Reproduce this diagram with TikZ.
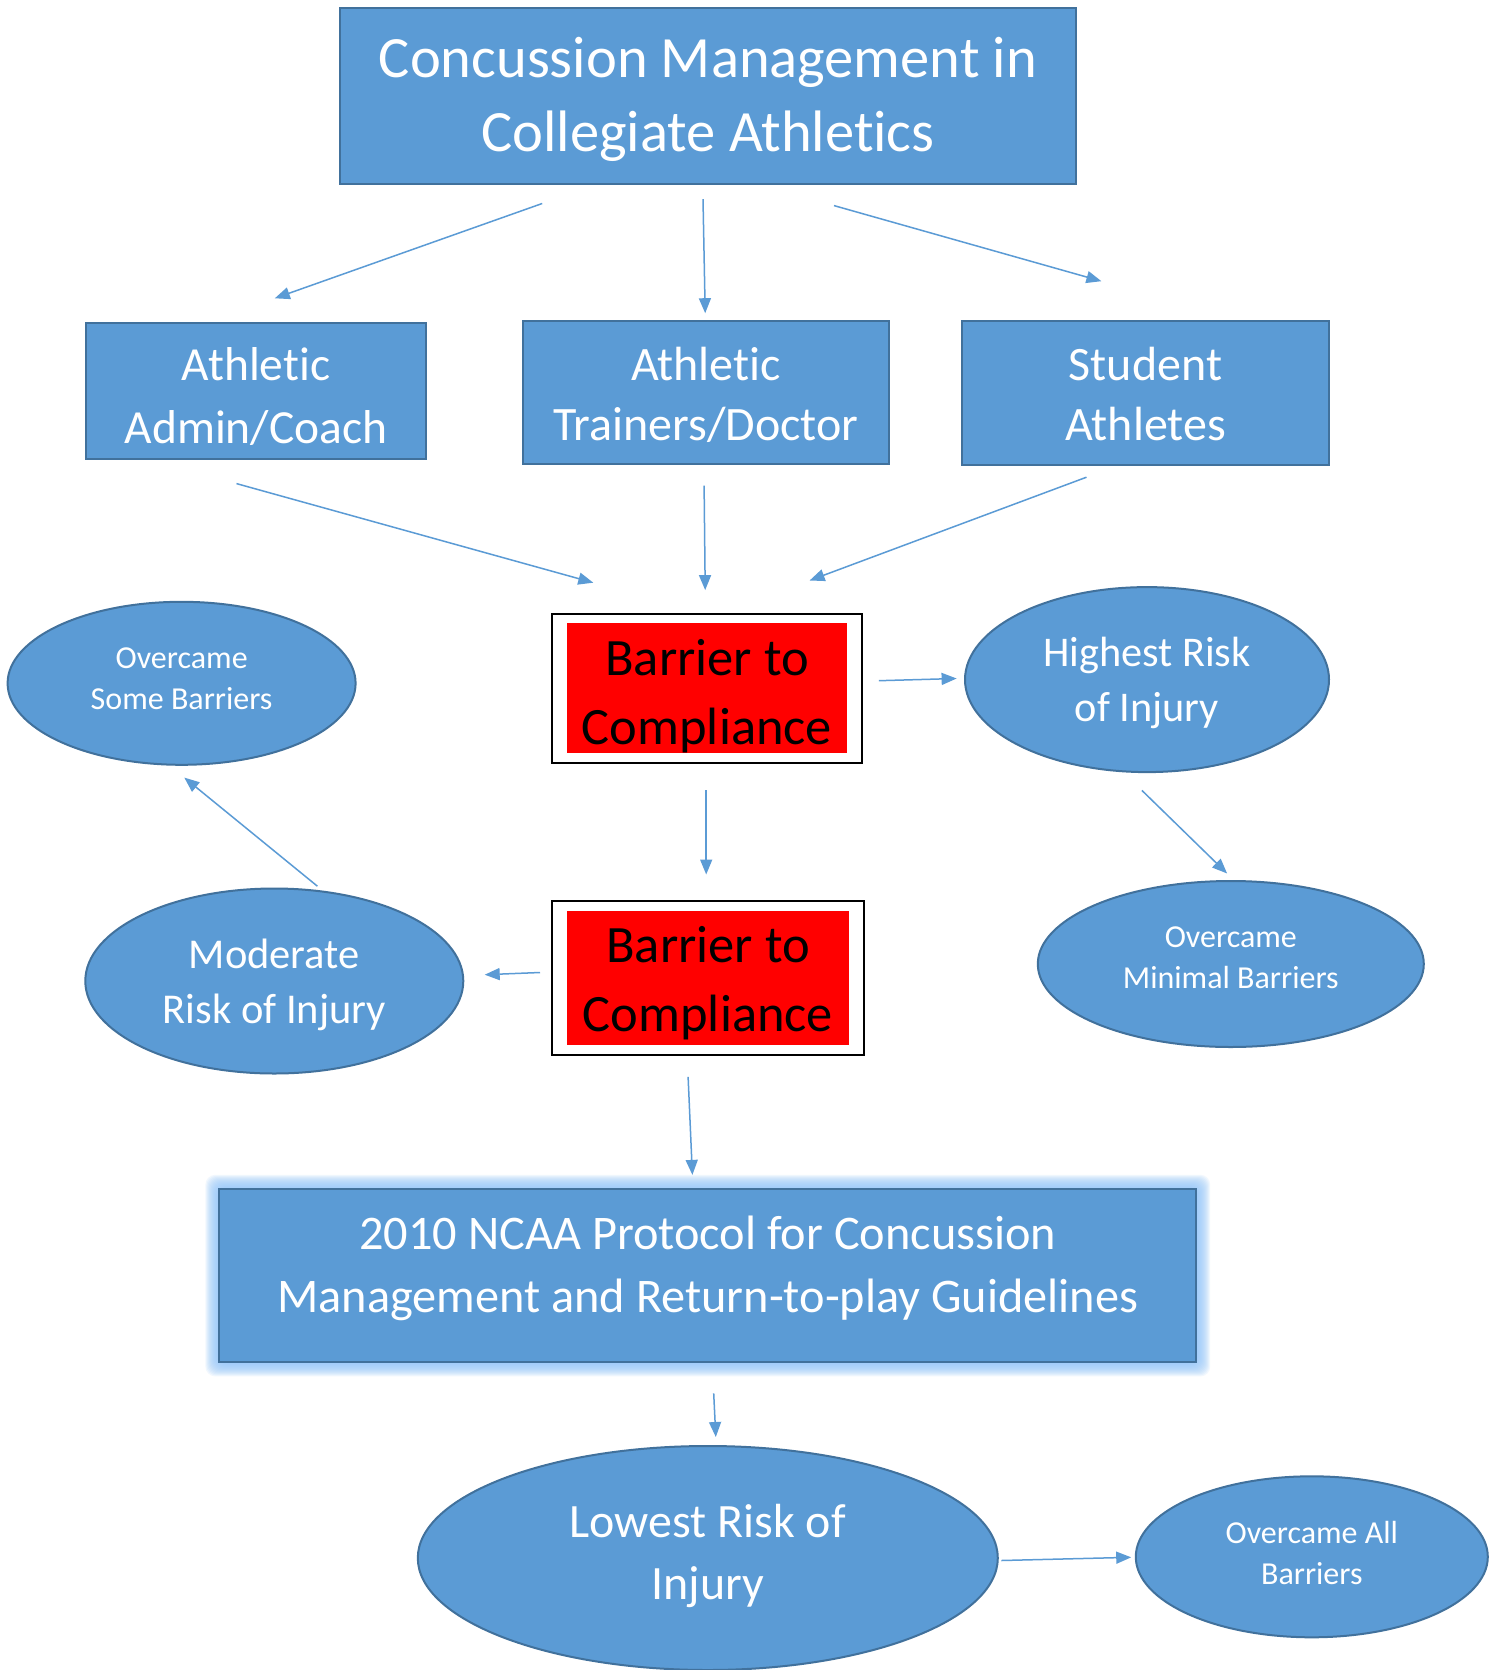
\documentclass[tikz,border=0pt]{standalone}
\usepackage{fontspec}
\setmainfont{Carlito}[Ligatures=NoCommon]
\usetikzlibrary{shapes.geometric,arrows.meta}
\definecolor{blu}{HTML}{5B9BD5}
\definecolor{bordc}{HTML}{41719C}
\definecolor{arrc}{HTML}{5B9BD5}
\definecolor{glowc}{RGB}{150,200,250}
\tikzset{
  box/.style={draw=bordc, fill=blu, line width=2pt, inner sep=0pt},
  ell/.style={ellipse, draw=bordc, fill=blu, line width=2pt, inner sep=0pt},
  frame/.style={draw=black, fill=white, line width=1.5pt, inner sep=0pt},
  redbox/.style={fill=red, inner sep=0pt},
  wtxt/.style={text=white, inner sep=0pt, align=center},
  btxt/.style={text=black, inner sep=0pt, align=center},
  arr/.style={draw=arrc, line width=1.5pt, -{Triangle[length=15pt,width=12pt]}},
}
\newcommand{\fs}[2]{\fontsize{#1}{#2}\selectfont}
\begin{document}
\begin{tikzpicture}[x=1pt,y=-1pt]
\useasboundingbox (0,0) rectangle (1502,1670);
\fill[white] (0,0) rectangle (1502,1670);

% top box
\node[box, minimum width=736pt, minimum height=175pt] (title) at (708,96) {};
\node[wtxt, font=\fs{58.5}{74}, yshift=-3.7pt] (titleT) at (title) {Concussion Management in\\Collegiate Athletics};

% second row
\node[box, minimum width=340pt, minimum height=136pt] (admin) at (256,391) {};
\node[wtxt, font=\fs{47.5}{63}, yshift=-5.3pt] (adminT) at (admin) {Athletic\\Admin/Coach};
\node[box, minimum width=366pt, minimum height=143pt] (trainer) at (706,392.5) {};
\node[wtxt, font=\fs{48}{60}, yshift=-2pt] (trainerT) at (trainer) {Athletic\\Trainers/Doctor};
\node[box, minimum width=367pt, minimum height=144pt] (student) at (1145.5,393) {};
\node[wtxt, font=\fs{48}{60}, yshift=-1pt] (studentT) at (student) {Student\\Athletes};

% barrier 1
\node[frame, minimum width=310pt, minimum height=149pt] (b1frame) at (707,688.5) {};
\node[redbox, minimum width=280pt, minimum height=130pt] (b1) at (707,688) {};
\node[btxt, font=\fs{52.5}{69}, yshift=-8.5pt] (b1T) at (b1) {Barrier to\\Compliance};

% barrier 2
\node[frame, minimum width=312pt, minimum height=154pt] (b2frame) at (708,978) {};
\node[redbox, minimum width=282pt, minimum height=134pt] (b2) at (708,978) {};
\node[btxt, font=\fs{52.5}{69}, yshift=-5.3pt] (b2T) at (b2) {Barrier to\\Compliance};

% ellipses
\node[ell, minimum width=348pt, minimum height=163pt] (some) at (181.6,683.3) {};
\node[wtxt, font=\fs{32}{41}, yshift=4.8pt] (someT) at (some) {Overcame\\Some Barriers};
\node[ell, minimum width=364pt, minimum height=185pt] (high) at (1147,679.6) {};
\node[wtxt, font=\fs{42.3}{55}, yshift=-3.2pt] (highT) at (high) {Highest Risk\\of Injury};
\node[ell, minimum width=378pt, minimum height=185pt] (moder) at (274.3,981) {};
\node[wtxt, font=\fs{42.5}{55}, yshift=-4.3pt] (moderT) at (moder) {Moderate\\Risk of Injury};
\node[ell, minimum width=386pt, minimum height=166pt] (minim) at (1230.8,964) {};
\node[wtxt, font=\fs{32}{41}, yshift=5.9pt] (minimT) at (minim) {Overcame\\Minimal Barriers};

% NCAA box with glow
\foreach \i in {1,...,14} {
  \fill[glowc, opacity=0.13, rounded corners=10pt] (219.4-\i,1188.8-\i) rectangle (1196.2+\i,1362.4+\i);
}
\node[box, minimum width=977pt, minimum height=173.6pt] (ncaa) at (707.8,1275.6) {};
\node[wtxt, font=\fs{48.3}{63}, yshift=7pt] (ncaaT) at (ncaa) {2010 NCAA Protocol for Concussion\\Management and Return-to-play Guidelines};

% bottom ellipses
\node[ell, minimum width=580pt, minimum height=224pt] (low) at (707.8,1558) {};
\node[wtxt, font=\fs{47.9}{62}, yshift=2pt] (lowT) at (low) {Lowest Risk of\\Injury};
\node[ell, minimum width=352pt, minimum height=161pt] (all) at (1311.8,1556.8) {};
\node[wtxt, font=\fs{32}{41}, yshift=4.3pt] (allT) at (all) {Overcame All\\Barriers};

% connector end points
\coordinate (t1) at (542.2,203.5);  \coordinate (t1e) at (274.8,298.3);
\coordinate (t2) at (703,199.2);    \coordinate (t2e) at (705.2,313.2);
\coordinate (t3) at (834,205.6);    \coordinate (t3e) at (1101.4,281.2);
\coordinate (r1) at (236.5,483.6);  \coordinate (r1e) at (593.3,582.7);
\coordinate (r2) at (704.1,485.7);  \coordinate (r2e) at (705.2,590.1);
\coordinate (r3) at (1086.5,477.2); \coordinate (r3e) at (809.6,580.5);
\coordinate (h1) at (878.8,680.7);  \coordinate (h1e) at (956.6,678.5);
\coordinate (h2) at (1141.9,790.4); \coordinate (h2e) at (1227.1,873.5);
\coordinate (v1) at (706.2,790.4);  \coordinate (v1e) at (706.2,874.5);
\coordinate (m1) at (540,972.5);    \coordinate (m1e) at (484.7,974.7);
\coordinate (m2) at (317.4,886.2);  \coordinate (m2e) at (184.3,777.6);
\coordinate (n1) at (688.1,1076.9); \coordinate (n1e) at (692.4,1174.9);
\coordinate (n2) at (713.7,1393.3); \coordinate (n2e) at (715.8,1437);
\coordinate (l1) at (1001.3,1560.5);\coordinate (l1e) at (1131.2,1557.3);

\draw[arr] (t1) -- (t1e);
\draw[arr] (t2) -- (t2e);
\draw[arr] (t3) -- (t3e);
\draw[arr] (r1) -- (r1e);
\draw[arr] (r2) -- (r2e);
\draw[arr] (r3) -- (r3e);
\draw[arr] (h1) -- (h1e);
\draw[arr] (h2) -- (h2e);
\draw[arr] (v1) -- (v1e);
\draw[arr] (m1) -- (m1e);
\draw[arr] (m2) -- (m2e);
\draw[arr] (n1) -- (n1e);
\draw[arr] (n2) -- (n2e);
\draw[arr] (l1) -- (l1e);
\end{tikzpicture}
\end{document}
